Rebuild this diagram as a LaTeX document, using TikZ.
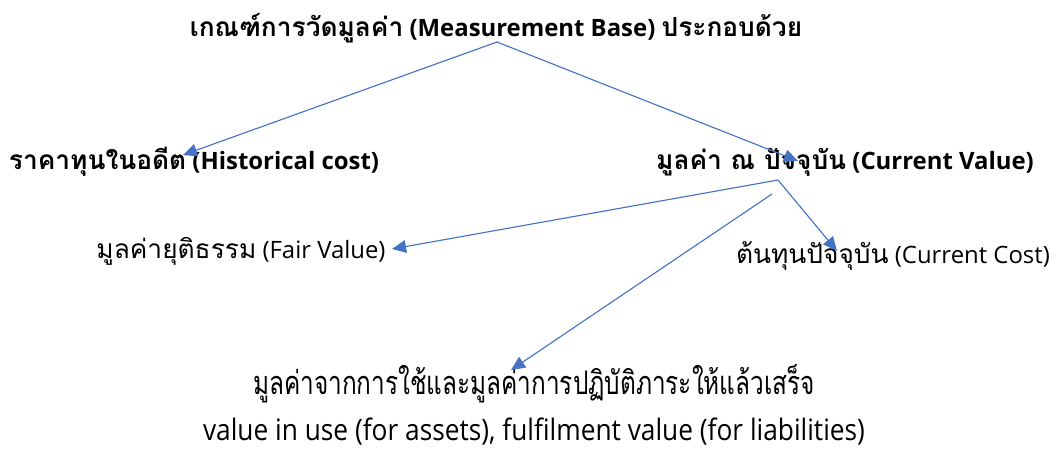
\documentclass[tikz,border=0pt]{standalone}
\usepackage{fontspec}
\setmainfont{Open Sans}
\newfontfamily\thai[Script=Thai,Scale=1.1]{Loma}
\newfontfamily\thainarrow[Script=Thai,Scale=1.1,FakeStretch=0.75]{Loma}
\newfontfamily\latnarrow[FakeStretch=0.89]{Open Sans}
\usetikzlibrary{arrows.meta}
\definecolor{arrowblue}{RGB}{68,114,196}

\begin{document}
\begin{tikzpicture}[x = 0.025cm, y = -0.025cm]
\tikzstyle{HeadStyle}=[inner sep = 0pt,
                       font = \bfseries\fontsize{17}{20}\selectfont]
\tikzstyle{ItemStyle}=[inner sep = 0pt,
                       font = \fontsize{17}{20}\selectfont]
\tikzstyle{UseStyle}=[inner sep = 0pt,
                      font = \fontsize{21}{33}\selectfont]
\tikzstyle{EdgeStyle}=[draw = arrowblue, line width = 0.8pt,
                       -{Triangle[length = 10pt, width = 9pt]}]
\useasboundingbox (0,0) rectangle (1061,449);
\node[HeadStyle] (base) at (496,28) {{\thai เกณฑ์การวัดมูลค่า} (Measurement Base) {\thai ประกอบด้วย}};
\node[HeadStyle] (hist) at (194,162) {{\thai ราคาทุนในอดีต} (Historical cost)};
\node[HeadStyle] (curv) at (845,162) {{\thai มูลค่า ณ ปัจจุบัน} (Current Value)};
\node[ItemStyle] (fair) at (241,251) {{\thai มูลค่ายุติธรรม} (Fair Value)};
\node[ItemStyle] (ccost) at (893,256) {{\thai ต้นทุนปัจจุบัน} (Current Cost)};
\node[UseStyle, align = center] (use) at (534,405) {{\thainarrow มูลค่าจากการใช้และมูลค่าการปฏิบัติภาระให้แล้วเสร็จ}\\
  {\latnarrow value in use (for assets), fulfilment value (for liabilities)}};
% start and end points of the arrows
\coordinate (b0) at (497,42);
\coordinate (c0) at (778,180);
\coordinate (c1) at (772,194);
\coordinate (h1) at (183,155);
\coordinate (v1) at (798,161);
\coordinate (f1) at (392,249);
\coordinate (cc1) at (837,251);
\coordinate (u1) at (511,370);
\draw[EdgeStyle] (b0) -- (h1);
\draw[EdgeStyle] (b0) -- (v1);
\draw[EdgeStyle] (c0) -- (f1);
\draw[EdgeStyle] (c0) -- (cc1);
\draw[EdgeStyle] (c1) -- (u1);
\end{tikzpicture}
\end{document}
